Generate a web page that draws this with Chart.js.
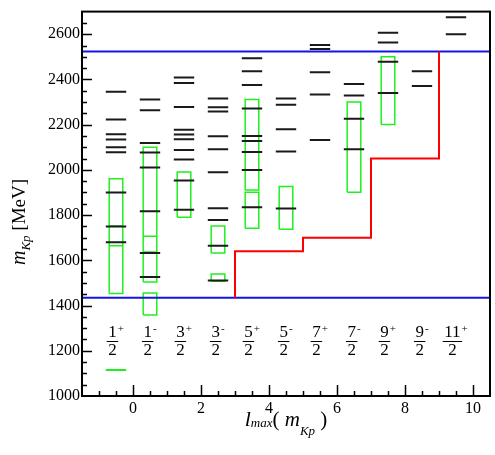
<!DOCTYPE html>
<html>
<head>
<meta charset="utf-8">
<script src="https://cdn.jsdelivr.net/npm/chart.js@4/dist/chart.umd.min.js"></script>
<style>
  body { margin: 0; background: #fff; }
  #chart { display: block; }
</style>
</head>
<body>
<canvas id="chart" width="495" height="455"></canvas>
<script>
// columns (x positions) and their J^P labels
const columns = [-0.5, 0.5, 1.5, 2.5, 3.5, 4.5, 5.5, 6.5, 7.5, 8.5, 9.5];
const labelNum = ['1', '1', '3', '3', '5', '5', '7', '7', '9', '9', '11'];
const labelSign = ['+', '-', '+', '-', '+', '-', '+', '-', '+', '-', '+'];

// black levels, one list per column (MeV)
const levels = [
    [2345, 2223, 2158, 2134, 2100, 2078, 1900, 1750, 1680],
    [2311, 2264, 2119, 2077, 2011, 1817, 1632, 1526],
    [2409, 2384, 2278, 2177, 2157, 2135, 2088, 2046, 1953, 1824],
    [2316, 2277, 2258, 2149, 2091, 1990, 1830, 1778, 1665, 1511],
    [2494, 2436, 2375, 2271, 2150, 2128, 2079, 2000, 1835],
    [2316, 2288, 2180, 2081, 1829],
    [2552, 2535, 2432, 2333, 2132],
    [2380, 2329, 2226, 2091],
    [2607, 2563, 2478, 2340],
    [2436, 2371],
    [2675, 2600]
];

// green boxes (experimental ranges)
const boxCol = [-0.5, -0.5, 0.5, 0.5, 0.5, 1.5, 2.5, 2.5, 3.5, 3.5, 4.5, 6.5, 7.5];
const boxLo  = [1665, 1453, 1504, 1637, 1358, 1791, 1632, 1507, 1911, 1742, 1737, 1901, 2201];
const boxHi  = [1961, 1752, 2100, 1707, 1456, 1991, 1752, 1539, 2311, 1901, 1926, 2300, 2500];

// green single level
const greenCol = [-0.5];
const greenLevel = [1115];

// red step line
const stepX = [3, 3, 5, 5, 7, 7, 9, 9];
const stepY = [1435, 1640, 1640, 1700, 1700, 2050, 2050, 2523];

// blue thresholds
const blueLevels = [1435, 2523];

const xTicks = [0, 2, 4, 6, 8, 10];
const yTicks = [1000, 1200, 1400, 1600, 1800, 2000, 2200, 2400, 2600];
const fracY = 1245;

const serif = '"Liberation Serif", "DejaVu Serif", serif';

function dashes(cols, vals, half) {
    const pts = [];
    cols.forEach(function(c, i) {
        vals[i].forEach(function(v) {
            pts.push({x: c - half, y: v}, {x: c + half, y: v}, {x: c, y: null});
        });
    });
    return pts;
}

const blackPts = dashes(columns, levels, 0.3);
const greenPts = dashes(greenCol, greenLevel.map(v => [v]), 0.3);
const boxPts = [];
boxCol.forEach(function(c, i) {
    const a = c - 0.2, b = c + 0.2;
    boxPts.push({x: a, y: boxLo[i]}, {x: b, y: boxLo[i]}, {x: b, y: boxHi[i]},
                {x: a, y: boxHi[i]}, {x: a, y: boxLo[i]}, {x: c, y: null});
});
const stepPts = stepX.map((x, i) => ({x: x, y: stepY[i]}));
const bluePts = [];
blueLevels.forEach(function(v) {
    bluePts.push({x: -1.5, y: v}, {x: 10.5, y: v}, {x: 0, y: null});
});

function lineSet(data, color, width) {
    return {
        data: data, showLine: true, borderColor: color, borderWidth: width,
        pointRadius: 0, pointHoverRadius: 0, spanGaps: false, tension: 0, fill: false
    };
}

function drawRich(ctx, parts, x, y) {
    // parts: [text, font, dy]
    parts.forEach(function(p) {
        ctx.font = p[1];
        ctx.fillText(p[0], x, y + p[2]);
        x += ctx.measureText(p[0]).width;
    });
}
function richWidth(ctx, parts) {
    let w = 0;
    parts.forEach(function(p) { ctx.font = p[1]; w += ctx.measureText(p[0]).width; });
    return w;
}

const overlay = {
    id: 'overlay',
    afterDraw(chart) {
        const ctx = chart.ctx;
        const a = chart.chartArea;
        const xs = chart.scales.x, ys = chart.scales.y;
        ctx.save();
        ctx.strokeStyle = '#000';
        ctx.fillStyle = '#000';
        // ticks pointing inward
        ctx.lineWidth = 1.5;
        ctx.beginPath();
        for (let i = -2; i <= 20; i++) {
            const px = Math.round(xs.getPixelForValue(i / 2)) + 0.5;
            const len = (i % 4 === 0) ? 11 : 5;
            ctx.moveTo(px, a.bottom);
            ctx.lineTo(px, a.bottom - len);
        }
        for (let v = 1050; v < 2700; v += 50) {
            const py = Math.round(ys.getPixelForValue(v)) + 0.5;
            const len = (v % 200 === 0) ? 10 : 5;
            ctx.moveTo(a.left, py);
            ctx.lineTo(a.left + len, py);
        }
        ctx.stroke();
        // frame
        ctx.lineWidth = 2;
        ctx.strokeRect(a.left, a.top, a.right - a.left, a.bottom - a.top);

        // J^P fractions
        const p = ys.getPixelForValue(fracY);
        ctx.textBaseline = 'alphabetic';
        columns.forEach(function(c, i) {
            const cx = xs.getPixelForValue(c);
            ctx.font = '17px ' + serif;
            const nw = ctx.measureText(labelNum[i]).width;
            ctx.font = '11px ' + serif;
            const sw = ctx.measureText(labelSign[i]).width;
            const left = cx - (nw + 1 + sw) / 2;
            const fc = left + nw / 2;
            ctx.textAlign = 'center';
            ctx.font = '17px ' + serif;
            ctx.fillText(labelNum[i], fc, p - 3.5);
            ctx.fillText('2', fc, p + 14.5);
            ctx.fillRect(fc - nw / 2 - 1.5, Math.round(p), nw + 3, 1);
            ctx.textAlign = 'left';
            ctx.font = '11px ' + serif;
            ctx.fillText(labelSign[i], left + nw + 1, p - 9);
        });

        // axis titles
        ctx.textAlign = 'left';
        const xt = [
            ['l', 'italic 22px ' + serif, 0],
            ['max', 'italic 13px ' + serif, 1],
            ['(', '21px ' + serif, 0],
            [' m', 'italic 21px ' + serif, 0],
            ['Kp', 'italic 13px ' + serif, 9],
            [' )', '21px ' + serif, 0]
        ];
        const xw = richWidth(ctx, xt);
        drawRich(ctx, xt, (a.left + a.right) / 2 - xw / 2, 426);

        const yt = [
            ['m', 'italic 20px ' + serif, 0],
            ['Kp', 'italic 13px ' + serif, 5],
            [' [MeV]', '19px ' + serif, 0]
        ];
        const yw = richWidth(ctx, yt);
        ctx.translate(25, 222);
        ctx.rotate(-Math.PI / 2);
        drawRich(ctx, yt, -yw / 2, 0);
        ctx.restore();
    }
};

new Chart(document.getElementById('chart'), {
    type: 'scatter',
    data: {
        datasets: [
            lineSet(stepPts, '#ff0000', 2),
            lineSet(bluePts, '#1414e8', 2),
            lineSet(blackPts, '#1a1a1a', 2),
            lineSet(greenPts, '#1ef01e', 2),
            lineSet(boxPts, '#1ef01e', 1.5)
        ]
    },
    options: {
        responsive: false,
        animation: false,
        layout: { padding: { top: 6, right: 5, left: 0, bottom: 0 } },
        plugins: { legend: { display: false }, tooltip: { enabled: false } },
        scales: {
            x: {
                type: 'linear', min: -1.5, max: 10.5,
                grid: { display: false, drawTicks: false },
                border: { display: false },
                afterBuildTicks: function(s) { s.ticks = xTicks.map(v => ({value: v})); },
                afterFit: function(s) { s.height = 59; },
                ticks: { color: '#000', padding: 3, maxRotation: 0, font: { family: serif, size: 16 },
                         callback: v => String(v) }
            },
            y: {
                type: 'linear', min: 1000, max: 2700,
                grid: { display: false, drawTicks: false },
                border: { display: false },
                afterBuildTicks: function(s) { s.ticks = yTicks.map(v => ({value: v})); },
                afterFit: function(s) { s.width = 82; },
                ticks: { color: '#000', padding: 2, font: { family: serif, size: 16 },
                         callback: v => String(v) }
            }
        }
    },
    plugins: [overlay]
});
</script>
</body>
</html>
